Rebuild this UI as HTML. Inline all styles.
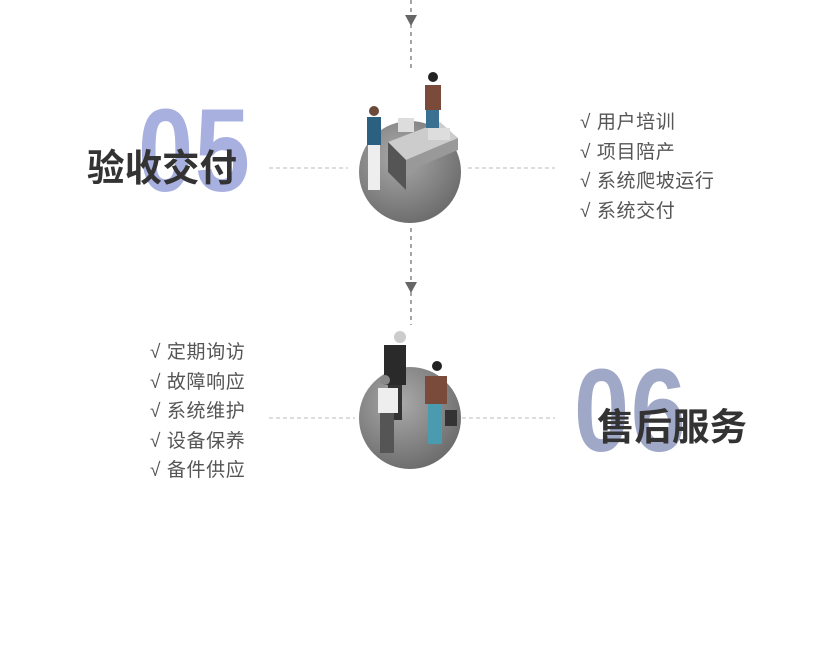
<!DOCTYPE html>
<html><head><meta charset="utf-8"><style>
body{margin:0;width:827px;height:669px;background:#fff;position:relative;overflow:hidden;font-family:"Liberation Sans","Noto Sans CJK SC",sans-serif}
.a{position:absolute}
.num{position:absolute;font-family:"Liberation Sans",sans-serif;font-weight:bold;font-size:118px;line-height:1;transform-origin:0 0;transform:scaleX(0.84);letter-spacing:2px}
.t{position:absolute;font-weight:bold;font-size:37.5px;color:#333;line-height:1;font-family:"Liberation Sans","Noto Sans CJK SC",sans-serif}
.li{position:absolute;font-size:19px;color:#555;line-height:29.5px;letter-spacing:0.6px}
</style></head><body>
<svg class="a" style="left:0;top:0" width="827" height="669">
<g stroke="#777" stroke-width="1.3" stroke-dasharray="4,4" fill="none">
<line x1="411" y1="0" x2="411" y2="70"/>
<line x1="411" y1="228" x2="411" y2="325"/>
</g>
<polygon points="405,15 417,15 411,26" fill="#666"/>
<polygon points="405,282 417,282 411,293" fill="#666"/>
<g stroke="#bbb" stroke-width="1" stroke-dasharray="4,3">
<line x1="269" y1="168" x2="348" y2="168"/>
<line x1="468" y1="168" x2="555" y2="168"/>
<line x1="269" y1="418" x2="355" y2="418"/>
<line x1="462" y1="418" x2="555" y2="418"/>
</g>
<defs><radialGradient id="g" cx="0.4" cy="0.35" r="0.7"><stop offset="0" stop-color="#aaa"/><stop offset="1" stop-color="#6a6a6a"/></radialGradient></defs>
<circle cx="410" cy="172" r="51" fill="url(#g)"/>
<circle cx="410" cy="418" r="51" fill="url(#g)"/>
<polygon points="388,142 440,122 458,138 406,160" fill="#ccc"/>
<polygon points="406,160 458,138 458,150 406,172" fill="#999"/>
<polygon points="388,142 406,160 406,190 388,172" fill="#555"/>
<rect x="398" y="118" width="16" height="14" fill="#ddd"/>
<rect x="428" y="128" width="22" height="12" fill="#ddd"/>
<rect x="367" y="117" width="14" height="28" fill="#2b6080"/>
<rect x="368" y="145" width="12" height="45" fill="#eee"/>
<circle cx="374" cy="111" r="5" fill="#6b4a3a"/>
<rect x="425" y="85" width="16" height="25" fill="#7a4a3a"/>
<rect x="426" y="110" width="13" height="18" fill="#3a7090"/>
<circle cx="433" cy="77" r="5" fill="#222"/>
<rect x="384" y="345" width="22" height="40" fill="#2a2a2a"/>
<rect x="388" y="385" width="14" height="35" fill="#333"/>
<circle cx="400" cy="337" r="6" fill="#ccc"/>
<rect x="378" y="388" width="20" height="25" fill="#eee"/>
<rect x="380" y="413" width="14" height="40" fill="#555"/>
<circle cx="385" cy="380" r="5" fill="#888"/>
<rect x="425" y="376" width="22" height="28" fill="#7a4a3a"/>
<rect x="428" y="404" width="14" height="40" fill="#4a9ab0"/>
<circle cx="437" cy="366" r="5" fill="#222"/>
<rect x="445" y="410" width="12" height="16" fill="#333"/>
</svg>
<div class="num" style="left:138px;top:92px;color:#a8b0e0">05</div>
<div class="t" style="left:87px;top:150px">验收交付</div>
<div class="num" style="left:574px;top:352px;color:#a0a8c8">06</div>
<div class="t" style="left:597px;top:409px">售后服务</div>
<div class="li" style="left:580px;top:108px">√ 用户培训<br>√ 项目陪产<br>√ 系统爬坡运行<br>√ 系统交付</div>
<div class="li" style="left:150px;top:338px">√ 定期询访<br>√ 故障响应<br>√ 系统维护<br>√ 设备保养<br>√ 备件供应</div>
</body></html>
